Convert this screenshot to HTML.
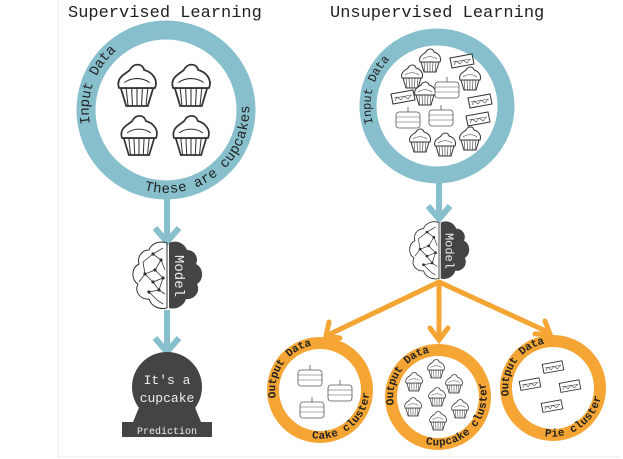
<!DOCTYPE html>
<html><head><meta charset="utf-8"><style>
html,body{margin:0;padding:0;background:#fff;width:623px;height:459px;overflow:hidden}
svg{display:block}
text{font-family:"Liberation Mono","DejaVu Sans Mono",monospace}
</style></head><body>
<svg width="623" height="459" viewBox="0 0 623 459" xmlns="http://www.w3.org/2000/svg">
<defs>
  <g id="cup" fill="#fff" stroke="#333" stroke-width="1">
    <path d="M-9,0 L-6,10 L6,10 L9,0 Z"/>
    <path d="M-6,0 L-5,10 M-3,0 L-2.5,10 M0,0 L0,10 M3,0 L2.5,10 M6,0 L5,10" stroke-width="0.6"/>
    <path d="M-10,0 C-12,-6 -6,-8 -4,-10 C-2,-14 3,-14 4,-10 C8,-9 12,-5 10,0 Z"/>
    <path d="M-7,-3 C-3,-6 3,-6 7,-3" stroke-width="0.6"/>
  </g>
  <g id="pie" fill="#fff" stroke="#333" stroke-width="1">
    <path d="M-12,-4 L10,-8 L12,2 L-10,6 Z"/>
    <path d="M-12,-4 L-10,6 M-9,0 L9,-3" stroke-width="0.6"/>
    <path d="M-8,3 L-6,-1 L-2,2 L1,-2 L5,1 L8,-3" stroke-width="0.6"/>
  </g>
  <g id="cake" fill="#fff" stroke="#555" stroke-width="0.8">
    <rect x="-12" y="-8" width="24" height="16" rx="3"/>
    <path d="M-12,-3 H12 M-12,2 H12" stroke-width="0.5"/>
    <path d="M0,-8 V-13" />
  </g>
  <g id="brain">
    <path d="M0,-33 C-8,-36 -16,-32 -18,-26 C-26,-26 -30,-18 -28,-12 C-36,-8 -36,4 -29,8 C-33,16 -26,24 -18,23 C-16,30 -8,34 0,32 Z" fill="#fff" stroke="#333" stroke-width="1"/>
    <path d="M-24,-14 L-14,-22 L-6,-16 L-12,-6 L-22,-2 L-14,6 L-4,2 L-8,14 L-18,16 L-10,24 L-4,28 M-14,-22 L-4,-28 M-6,-16 L-2,-6 M-12,-6 L-4,2 M-22,-2 L-28,6 M-14,6 L-8,14 M-8,14 L-2,18 M-24,-14 L-22,-2" fill="none" stroke="#333" stroke-width="0.8"/>
    <g fill="#333"><circle cx="-14" cy="-22" r="1.6"/><circle cx="-6" cy="-16" r="1.6"/><circle cx="-12" cy="-6" r="1.6"/><circle cx="-22" cy="-2" r="1.6"/><circle cx="-14" cy="6" r="1.6"/><circle cx="-4" cy="2" r="1.6"/><circle cx="-8" cy="14" r="1.6"/><circle cx="-18" cy="16" r="1.6"/></g>
    <path d="M2,-33 C10,-37 18,-32 20,-26 C28,-26 32,-18 29,-12 C37,-8 37,4 30,8 C34,16 27,24 19,23 C17,30 9,34 2,32 Z" fill="#444"/>
    <text transform="translate(11,0) rotate(90)" x="0" y="0" text-anchor="middle" dominant-baseline="central" font-size="14" fill="#eee">Model</text>
  </g>
  <path id="lArc" d="M87,124 A80,80 0 0 1 152,31"/>
  <path id="lArc2" d="M145,187 A80,80 0 0 0 246,103"/>
  <path id="rArc" d="M370,124 A69,69 0 0 1 413,41"/>
  <path id="o1a" d="M274,398 A47,47 0 0 1 316,343"/>
  <path id="o1b" d="M312,436 A47,47 0 0 0 363,370"/>
  <path id="o2a" d="M392,405 A47,47 0 0 1 434,350"/>
  <path id="o2b" d="M426,442 A47,47 0 0 0 482,381"/>
  <path id="o3a" d="M507,396 A47,47 0 0 1 549,341"/>
  <path id="o3b" d="M545,434 A47,47 0 0 0 597,372"/>
</defs>

<line x1="58" y1="0" x2="58" y2="457" stroke="#eee" stroke-width="1"/>
<line x1="58" y1="457" x2="620" y2="457" stroke="#eee" stroke-width="1"/>

<text x="68" y="17" font-size="17" fill="#222">Supervised Learning</text>
<text x="330" y="17" font-size="17" fill="#222">Unsupervised Learning</text>

<!-- Left ring -->
<circle cx="166" cy="110" r="80" fill="#fff" stroke="#87bfcc" stroke-width="19"/>
<text font-size="14" fill="#222" dominant-baseline="central"><textPath href="#lArc">Input Data</textPath></text>
<text font-size="14" fill="#222" dominant-baseline="central"><textPath href="#lArc2">These are cupcakes</textPath></text>
<use href="#cup" transform="translate(137,88) scale(1.8)"/>
<use href="#cup" transform="translate(191,88) scale(1.8)"/>
<use href="#cup" transform="translate(139,138) scale(1.7)"/>
<use href="#cup" transform="translate(191,138) scale(1.7)"/>

<line x1="167" y1="198" x2="167" y2="238" stroke="#87bfcc" stroke-width="6"/>
<path d="M155,228 L167,242 L179,228" fill="none" stroke="#87bfcc" stroke-width="6"/>
<use href="#brain" transform="translate(167,276)"/>
<line x1="167" y1="310" x2="167" y2="348" stroke="#87bfcc" stroke-width="6"/>
<path d="M155,338 L167,352 L179,338" fill="none" stroke="#87bfcc" stroke-width="6"/>

<!-- prediction -->
<path d="M140,405 L133,422 L122,422 L122,437 L212,437 L212,422 L201,422 L194,405 Z" fill="#444"/>
<circle cx="167" cy="387" r="35" fill="#444"/>
<text x="167" y="384" font-size="13" fill="#eee" text-anchor="middle">It's a</text>
<text x="167" y="402" font-size="13" fill="#eee" text-anchor="middle">cupcake</text>
<text x="167" y="434" font-size="10" fill="#eee" text-anchor="middle">Prediction</text>

<!-- Right ring -->
<circle cx="437" cy="106" r="69" fill="#fff" stroke="#87bfcc" stroke-width="17"/>
<text font-size="12" fill="#222" dominant-baseline="central"><textPath href="#rArc">Input Data</textPath></text>
<use href="#cup" transform="translate(430,62)"/>
<use href="#pie" transform="translate(462,62)"/>
<use href="#cup" transform="translate(412,78)"/>
<use href="#cup" transform="translate(425,95)"/>
<use href="#cake" transform="translate(447,90)"/>
<use href="#cup" transform="translate(470,80)"/>
<use href="#pie" transform="translate(403,98)"/>
<use href="#pie" transform="translate(480,102)"/>
<use href="#cake" transform="translate(408,120)"/>
<use href="#cake" transform="translate(441,118)"/>
<use href="#pie" transform="translate(478,120)"/>
<use href="#cup" transform="translate(420,142)"/>
<use href="#cup" transform="translate(445,146)"/>
<use href="#cup" transform="translate(470,140)"/>

<line x1="439" y1="180" x2="439" y2="214" stroke="#87bfcc" stroke-width="6"/>
<path d="M428,206 L439,219 L450,206" fill="none" stroke="#87bfcc" stroke-width="6"/>
<use href="#brain" transform="translate(439,251) scale(0.86)"/>

<!-- orange connectors -->
<g stroke="#f5a533" stroke-width="5" fill="none" stroke-linecap="round">
<line x1="439" y1="282" x2="330" y2="334"/>
<line x1="439" y1="282" x2="439" y2="338"/>
<line x1="439" y1="282" x2="548" y2="332"/>
<path d="M329,322 L326,336 L340,338"/>
<path d="M430,328 L439,340 L448,328"/>
<path d="M535,334 L550,334 L545,321"/>
</g>

<!-- Orange rings -->
<g font-size="11" font-weight="bold" fill="#222" dominant-baseline="central">
<circle cx="320" cy="390" r="47" fill="#fff" stroke="#f5a533" stroke-width="12"/>
<text><textPath href="#o1a">Output Data</textPath></text>
<text><textPath href="#o1b">Cake cluster</textPath></text>
<use href="#cake" transform="translate(310,378)"/>
<use href="#cake" transform="translate(340,393)"/>
<use href="#cake" transform="translate(312,410)"/>

<circle cx="438" cy="397" r="47" fill="#fff" stroke="#f5a533" stroke-width="12"/>
<text><textPath href="#o2a">Output Data</textPath></text>
<text><textPath href="#o2b">Cupcake cluster</textPath></text>
<use href="#cup" transform="translate(436,370) scale(0.8)"/>
<use href="#cup" transform="translate(414,383) scale(0.8)"/>
<use href="#cup" transform="translate(454,385) scale(0.8)"/>
<use href="#cup" transform="translate(437,398) scale(0.8)"/>
<use href="#cup" transform="translate(413,408) scale(0.8)"/>
<use href="#cup" transform="translate(460,410) scale(0.8)"/>
<use href="#cup" transform="translate(438,422) scale(0.8)"/>

<circle cx="553" cy="388" r="47" fill="#fff" stroke="#f5a533" stroke-width="12"/>
<text><textPath href="#o3a">Output Data</textPath></text>
<text><textPath href="#o3b">Pie cluster</textPath></text>
<use href="#pie" transform="translate(553,368) scale(0.9)"/>
<use href="#pie" transform="translate(530,385) scale(0.9)"/>
<use href="#pie" transform="translate(570,387) scale(0.9)"/>
<use href="#pie" transform="translate(552,407) scale(0.9)"/>
</g>
</svg>
</body></html>
